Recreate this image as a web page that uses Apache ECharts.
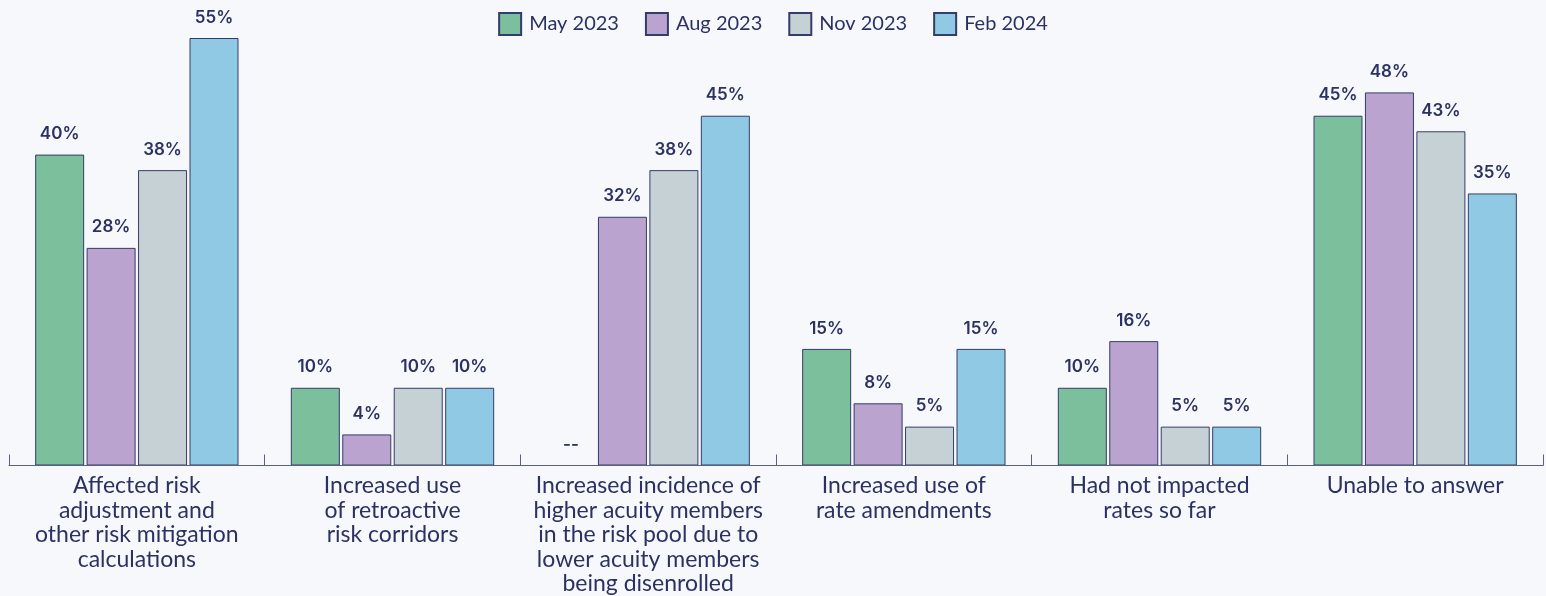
<!DOCTYPE html>
<html>
<head>
<meta charset="utf-8">
<script src="https://cdn.jsdelivr.net/npm/echarts@6/dist/echarts.min.js"></script>
<style>
  html, body { margin: 0; padding: 0; background: #f7f8fb; }
  #chart { width: 1546px; height: 596px; }
</style>
</head>
<body>
<div id="chart"></div>
<script>
// categories on the x axis
const categories = [
  'Affected risk\nadjustment and\nother risk mitigation\ncalculations',
  'Increased use\nof retroactive\nrisk corridors',
  'Increased incidence of\nhigher acuity members\nin the risk pool due to\nlower acuity members\nbeing disenrolled',
  'Increased use of\nrate amendments',
  'Had not impacted\nrates so far',
  'Unable to answer'
]
// survey waves (legend)
const waves = ['May 2023', 'Aug 2023', 'Nov 2023', 'Feb 2024']
// percentages per wave
const may2023 = [40, 10, 0, 15, 10, 45]
const aug2023 = [28, 4, 32, 8, 16, 48]
const nov2023 = [38, 10, 38, 5, 5, 43]
const feb2024 = [55, 10, 45, 15, 5, 35]
// which waves have no answer in each category ("--")
const noAnswer = [[], [], [0], [], [], []]

const waveValues = [may2023, aug2023, nov2023, feb2024]
const colors = ['#7bbf9c', '#bba3cf', '#c6d1d6', '#8fc9e3']
const navy = '#2b3263'

const chart = echarts.init(document.getElementById('chart'))

const series = waves.map((name, w) => ({
  name: name,
  type: 'bar',
  barWidth: 49,
  barGap: '5%',
  itemStyle: {
    color: colors[w],
    borderColor: '#343c6b',
    borderWidth: 1
  },
  label: {
    show: true,
    position: 'top',
    distance: 12,
    color: navy,
    fontFamily: 'Inter',
    fontWeight: 600,
    fontSize: 17,
    formatter: (p) => noAnswer[p.dataIndex].includes(w) ? '--' : p.value + '%'
  },
  data: waveValues[w]
}))

chart.setOption({
  backgroundColor: '#f7f8fb',
  animation: false,
  legend: {
    data: waves,
    icon: 'rect',
    top: 7,
    left: 'center',
    itemWidth: 22,
    itemHeight: 22,
    itemGap: 26,
    textStyle: {
      color: navy,
      fontFamily: 'Lato',
      fontSize: 20,
      padding: [0, 0, 0, 3]
    }
  },
  grid: {
    left: 9,
    right: 3,
    top: 38,
    bottom: 128
  },
  xAxis: {
    type: 'category',
    data: categories,
    axisLine: { show: true, lineStyle: { color: '#5c6080', width: 1 } },
    axisTick: { show: true, inside: true, length: 11, lineStyle: { color: '#5c6080', width: 1 } },
    axisLabel: {
      color: navy,
      fontFamily: 'Lato',
      fontSize: 23,
      lineHeight: 24.5,
      margin: 8,
      interval: 0
    },
    z: 5
  },
  yAxis: {
    type: 'value',
    min: 0,
    max: 55,
    show: false
  },
  series: series
})
</script>
</body>
</html>
